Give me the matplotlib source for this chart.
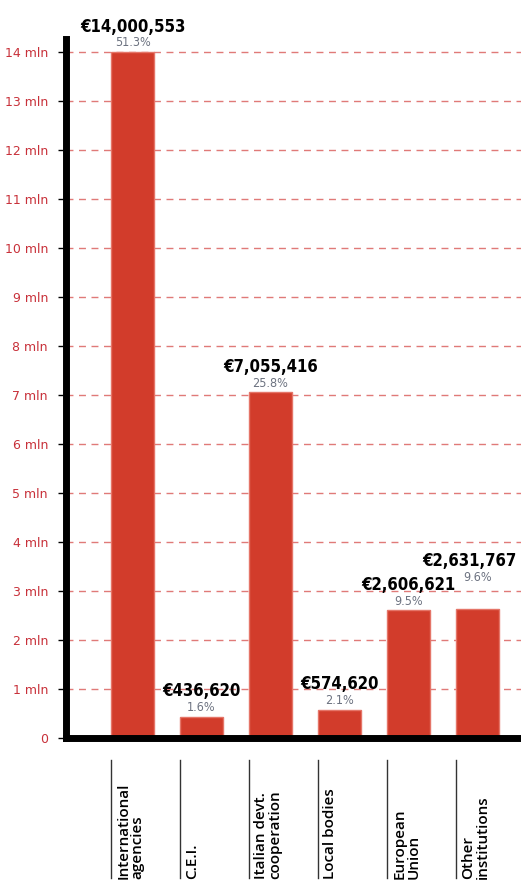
import matplotlib
matplotlib.use("Agg")
import matplotlib.pyplot as plt
import matplotlib.transforms as mtransforms

categories = ["International\nagencies", "C.E.I.", "Italian devt.\ncooperation",
              "Local bodies", "European\nUnion", "Other\ninstitutions"]
values = [14000553, 436620, 7055416, 574620, 2606621, 2631767]
value_labels = ["€14,000,553", "€436,620", "€7,055,416", "€574,620", "€2,606,621", "€2,631,767"]
pct_labels = ["51.3%", "1.6%", "25.8%", "2.1%", "9.5%", "9.6%"]
tick_values = list(range(0, 15))
tick_labels = ["0"] + [f"{i} mln" for i in range(1, 15)]

fig = plt.figure(figsize=(5.21, 8.9), dpi=100)
ax = fig.add_axes([66 / 521, 1 - 738 / 890, 1 - 66 / 521, (738 - 39) / 890])

x = list(range(len(categories)))
bar_w = 0.62
ax.bar(x, values, width=bar_w, color="#d23c2b", edgecolor="#e57568", linewidth=1, zorder=3)

ax.set_xlim(-0.965, 5.63)
ax.set_ylim(0, 14.27e6)

ax.set_yticks([v * 1e6 for v in tick_values])
ax.set_yticklabels(tick_labels, fontsize=9, color="#c8313a")
ax.tick_params(axis="y", length=6, width=1, color="black", pad=7)
ax.set_xticks([])

ax.yaxis.grid(True, linestyle=(0, (5, 4)), color="#e07a78", linewidth=1, zorder=0)
ax.set_axisbelow(True)

for s in ["top", "right"]:
    ax.spines[s].set_visible(False)
ax.spines["left"].set_linewidth(5)
ax.spines["bottom"].set_linewidth(5)
ax.spines["left"].set_zorder(5)
ax.spines["bottom"].set_zorder(5)

extra_off = [0, 0, 0, 0, 0, 16]
x_off = [0, 0, 0, 0, 0, -6]
for i, v in enumerate(values):
    ax.annotate(pct_labels[i], (i, v), xytext=(0, 2 + extra_off[i]), textcoords="offset points",
                ha="center", va="bottom", fontsize=9, color="#6c7280",
                family="DejaVu Sans", fontstretch="condensed", zorder=6)
    ax.annotate(value_labels[i], (i, v), xytext=(x_off[i], 12 + extra_off[i]), textcoords="offset points",
                ha="center", va="bottom", fontsize=12, fontweight="bold", color="black",
                family="DejaVu Sans", fontstretch="condensed", zorder=6)

trans = mtransforms.blended_transform_factory(ax.transData, ax.transAxes)
px = 1.0 / 69.0
for i, c in enumerate(categories):
    left = i - bar_w / 2
    ax.plot([left, left], [(738 - 760) / 699, (738 - 878) / 699], transform=trans,
            color="#333333", linewidth=1, clip_on=False)
    ax.text(left + 5 * px, (738 - 879) / 699, c, transform=trans, rotation=90,
            ha="left", va="bottom", multialignment="left", fontsize=11,
            fontweight="semibold", family=["Open Sans", "DejaVu Sans"],
            linespacing=1.05, color="black")

fig.savefig("out.png", dpi=100)
